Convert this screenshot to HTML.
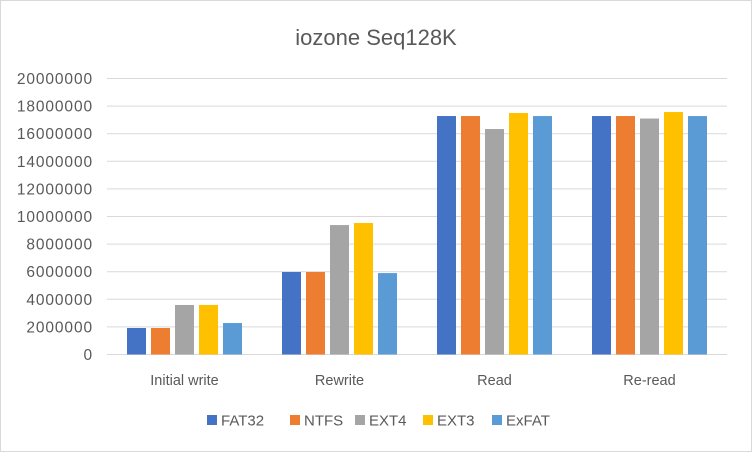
<!DOCTYPE html>
<html><head><meta charset="utf-8"><style>
body{margin:0;background:#fff;}
svg text{font-family:"Liberation Sans",sans-serif;fill:#595959;}
</style></head><body>
<svg id="chart" width="752" height="452" xmlns="http://www.w3.org/2000/svg">
<rect x="0.5" y="0.5" width="751" height="451" fill="#fff" stroke="#d9d9d9"/>
<text x="376" y="45" text-anchor="middle" font-size="22">iozone Seq128K</text>
<g id="grid"></g><g id="bars"></g><g id="labels"></g><g id="legend"></g>
</svg>
<script>
const categories=["Initial write","Rewrite","Read","Re-read"];
const seriesNames=["FAT32","NTFS","EXT4","EXT3","ExFAT"];
const seriesColors=["#4472c4","#ed7d31","#a5a5a5","#ffc000","#5b9bd5"];
const fat32=[1920000,5980000,17280000,17280000];
const ntfs=[1920000,5980000,17280000,17280000];
const ext4=[3590000,9380000,16340000,17100000];
const ext3=[3590000,9530000,17500000,17570000];
const exfat=[2280000,5900000,17280000,17280000];
const yTicks=[0,2000000,4000000,6000000,8000000,10000000,12000000,14000000,16000000,18000000,20000000];
const series=[fat32,ntfs,ext4,ext3,exfat];
const NS="http://www.w3.org/2000/svg";
const L=107,R=727,Y0=354.5,Y1=78.5,yMax=20000000;
const y=v=>Y0-(v/yMax)*(Y0-Y1);
const cw=(R-L)/categories.length;
const bw=19,gap=5;
function mk(t,a,p){const e=document.createElementNS(NS,t);for(const k in a)e.setAttribute(k,a[k]);p.appendChild(e);return e;}
const grid=document.getElementById('grid'),bars=document.getElementById('bars'),labels=document.getElementById('labels'),legend=document.getElementById('legend');
yTicks.forEach(v=>{
 const l=mk('line',{x1:L,x2:R,y1:y(v),y2:y(v),stroke:'#d9d9d9','stroke-width':1},grid);
 
 
 const t=mk('text',{x:93,y:y(v)+5.5,'text-anchor':'end','font-size':15.5,'letter-spacing':0.9},labels);
 t.textContent=v;
 
 
});
const gw=series.length*bw+(series.length-1)*gap;
categories.forEach((c,i)=>{
 const cx=L+cw*(i+0.5);
 series.forEach((s,j)=>{
  const x=cx-gw/2+j*(bw+gap);
  const r=mk('rect',{x:x,y:y(s[i]),width:bw,height:Y0-y(s[i]),fill:seriesColors[j]},bars);
  
  
 });
 const t=mk('text',{x:cx,y:385,'text-anchor':'middle','font-size':14.5},labels);
 t.textContent=c;
 
 
});
const lx=[207,290,355,423,492];
seriesNames.forEach((n,j)=>{
 const g=mk('g',{},legend);
 
 
 mk('rect',{x:lx[j],y:415,width:10,height:10,fill:seriesColors[j]},g);
 const t=mk('text',{x:lx[j]+14,y:425.5,'font-size':15},g);
 t.textContent=n;
});
</script>
</body></html>
